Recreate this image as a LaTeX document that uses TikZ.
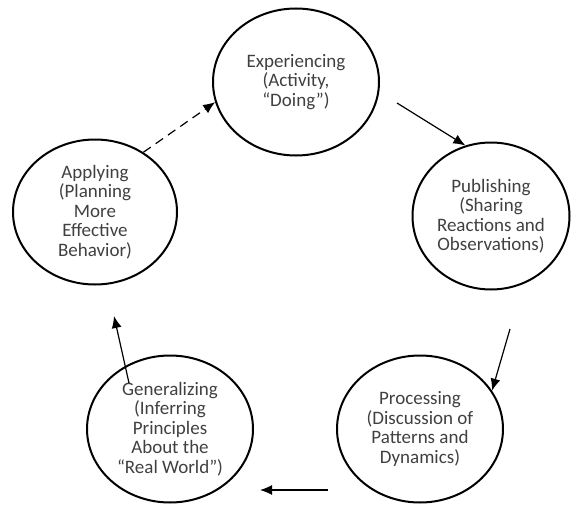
\documentclass[tikz,border=0pt]{standalone}
\usepackage{fontspec}
\setmainfont{Carlito}
\usetikzlibrary{arrows.meta,shapes.geometric}
\tikzset{
  stage/.style={draw, ellipse, line width=2pt, inner sep=0pt, minimum width=166pt, minimum height=147pt, align=center, text=black!75, font=\fontsize{19}{19.5}\selectfont},
  flow/.style={line width=1.2pt, -{Latex[length=12pt,width=10pt]}}
}
\begin{document}
\begin{tikzpicture}[x=1pt,y=-1pt]
\useasboundingbox (0,0) rectangle (571,506);
\node [stage] (exp) at (296,82) {Experiencing\\(Activity,\\“Doing”)};
\node [stage, minimum width=157pt] (pub) at (491,216) {Publishing\\(Sharing\\Reactions and\\Observations)};
\node [stage] (proc) at (420,429) {Processing\\(Discussion of\\Patterns and\\Dynamics)};
\node [stage] (gen) at (170,429) {Generalizing\\(Inferring\\Principles\\About the\\“Real World”)};
\node [stage, minimum width=164pt, minimum height=145pt] (app) at (95,212) {Applying\\(Planning\\More\\Effective\\Behavior)};
\coordinate (e2p) at (397,103);
\coordinate (p2p) at (510,329);
\coordinate (r2g) at (328,490);
\coordinate (r2gend) at (260,490);
\coordinate (g2a) at (129,383);
\coordinate (g2aend) at (114,316);
\draw [flow] (e2p) -- (pub.110);
\draw [flow] (p2p) -- (proc.28);
\draw [flow] (r2g) -- (r2gend);
\draw [flow] (g2a) -- (g2aend);
\draw [flow, dash pattern=on 9pt off 6pt] (app.51) -- (exp.194);
\end{tikzpicture}
\end{document}
